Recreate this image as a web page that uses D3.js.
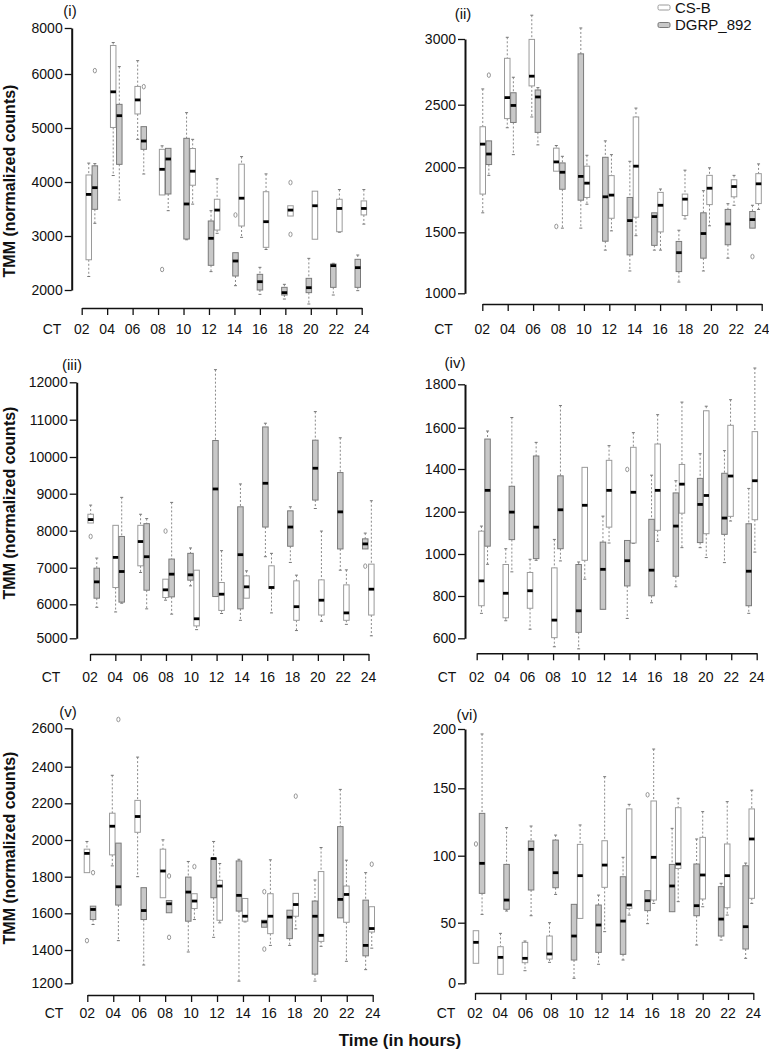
<!DOCTYPE html>
<html>
<head>
<meta charset="utf-8">
<script src="https://cdn.jsdelivr.net/npm/d3@7"></script>
<style>
  body { margin: 0; background: #fff; }
  svg { display: block; font-family: "Liberation Sans", Arial, sans-serif; }
</style>
</head>
<body>
<svg id="chart" width="769" height="1050"></svg>
<script>
// time points (CT) and their labels
const times = [2, 4, 6, 8, 10, 12, 14, 16, 18, 20, 22, 24];
const timeLabels = ["02", "04", "06", "08", "10", "12", "14", "16", "18", "20", "22", "24"];
const groups = ["CS-B", "DGRP_892"];

// each box: [whisker low, q1, median, q3, whisker high], one per time point
// panel (i)
const p1White = [[2250,2560,3770,4130,4350],[4120,5010,5670,7240,7370],[4790,5260,5520,5770,6580],[3760,3760,4235,4605,4670],
  [3590,3940,4200,4620,4790],[3050,3110,3480,3680,4060],[2975,3185,3700,4330,4470],[2750,2790,3265,3820,4150],
  [3370,3370,3480,3560,3560],[2940,2940,3560,3830,3830],[3070,3080,3510,3680,3860],[3220,3390,3510,3650,3860]];
const p1Gray = [[3235,3494,3895,4300,4340],[3667,4327,5228,5438,6321],[4148,4605,4759,5025,5025],[3469,3778,4426,4623,4623],
  [2930,2944,3593,4809,5284],[2340,2457,2957,3278,3469],[2080,2259,2537,2691,2691],[1920,2000,2154,2290,2420],
  [1833,1907,1951,2049,2105],[1741,1951,2043,2216,2586],[1907,2049,2451,2481,2494],[1988,2049,2414,2568,2648]];
const p1WhiteOut = [[8, 2380], [18, 3990], [18, 3030]];
const p1GrayOut = [[2, 6146], [6, 5765], [14, 3389]];

// panel (ii)
const p2White = [[1650,1794,2185,2324,2620],[2316,2389,2554,2853,3013],[2402,2643,2717,2997,3181],[1970,1970,2043,2153,2174],
  [1716,1768,1878,2009,2096],[1511,1608,1786,1936,2101],[1472,1616,2009,2402,2473],[1354,1503,1708,1807,1833],
  [1603,1629,1755,1794,1978],[1550,1713,1839,1938,1996],[1708,1773,1852,1904,1938],[1676,1721,1873,1951,2027]];
const p2Gray = [[1938,2022,2106,2211,2211],[2101,2358,2494,2591,2709],[2179,2279,2559,2612,2630],[1532,1831,1962,2035,2088],
  [1532,1747,1930,2887,3084],[1354,1427,1773,2080,2211],[1183,1315,1590,1768,2048],[1354,1393,1621,1650,1650],
  [1092,1178,1333,1425,1516],[1183,1288,1490,1650,1820],[1288,1398,1564,1676,1720],[1532,1532,1598,1660,1708]];
const p2WhiteOut = [[8, 1545]];
const p2GrayOut = [[2, 2725], [24, 1301]];

// panel (iii)
const p3White = [[8208,8208,8300,8445,8692],[5775,6458,7279,8145,8145],[6869,7051,7707,8145,8445],[6112,6185,6395,6686,6686],
  [5255,5365,5574,6932,6932],[5729,5820,6276,6595,7461],[6167,6167,6477,6777,6914],[5747,6430,6460,7051,7388],
  [5228,5529,5930,6641,6796],[5501,5684,6112,6668,7990],[5410,5529,5747,6531,6941],[5073,5684,6413,7096,8810]];
const p3Gray = [[5912,6167,6613,6987,7260],[6030,6060,6896,7844,8901],[5866,6385,7297,8190,8327],[5711,6203,6823,7233,8765],
  [6504,6659,6805,7388,7534],[6212,6212,9129,10442,12338],[5529,5866,7352,8646,9266],[7297,8099,9284,10806,10906],
  [7142,7580,8099,8537,8646],[8600,8828,9694,10451,11216],[6932,7507,8509,9576,10515],[7507,7507,7643,7780,7935]];
const p3WhiteOut = [[2, 7844], [8, 7990]];
const p3GrayOut = [[24, 7042]];

// panel (iv)
const p4White = [[718,754,872,1108,1132],[683,697,813,950,1025],[643,742,825,912,975],[560,603,686,934,1069],
  [880,970,1230,1408,1408],[1052,1127,1300,1442,1513],[1050,1052,1291,1505,1576],[1060,1112,1300,1521,1660],
  [1030,1193,1329,1422,1718],[983,1096,1276,1678,1699],[1156,1178,1367,1611,1729],[1009,1162,1345,1581,1875]];
const p4Gray = [[951,1037,1300,1545,1584],[915,1068,1198,1319,1647],[970,978,1127,1463,1529],[967,1025,1209,1368,1702],
  [550,628,730,950,962],[737,737,927,1056,1179],[694,848,968,1064,1064],[768,801,923,1164,1371],
  [844,894,1132,1288,1345],[1030,1054,1234,1356,1474],[959,1093,1170,1380,1489],[718,754,918,1143,1309]];
const p4WhiteOut = [];
const p4GrayOut = [[14, 1398]];

// panel (v)
const p5White = [[1822,1822,1927,1950,1992],[1859,1919,2075,2146,2353],[1800,2042,2128,2216,2450],[1685,1685,1831,1950,2001],
  [1566,1626,1667,1707,1707],[1548,1562,1749,1780,1872],[1553,1557,1584,1681,1681],[1425,1489,1584,1707,1892],
  [1515,1584,1648,1709,1709],[1420,1447,1480,1828,1959],[1332,1551,1703,1749,1890],[1410,1498,1517,1636,1636]];
const p5Gray = [[1539,1566,1621,1639,1639],[1451,1645,1745,1983,1983],[1310,1566,1615,1740,1740],[1603,1603,1652,1670,1670],
  [1388,1557,1716,1798,1883],[1469,1685,1899,1901,1992],[1213,1612,1698,1886,1895],[1524,1524,1553,1562,1562],
  [1425,1462,1579,1617,1617],[1213,1255,1584,1667,1782],[1575,1575,1676,2073,2276],[1282,1365,1425,1672,1822]];
const p5WhiteOut = [[2, 1451], [10, 1855], [18, 2239], [24, 1868]];
const p5GrayOut = [[2, 1822], [4, 2646], [8, 1804], [8, 1469], [16, 1718], [16, 1405]];

// panel (vi)
const p6White = [[16.5,16.5,33.8,43.4,43.4],[7.4,7.4,21.4,30.2,41.2],[10.4,17,20.6,33.8,34.9],[17.3,20,24.2,39,50],
  [53.2,53.2,85.1,108.4,122.8],[42.6,76.4,93,111.1,159.8],[55.7,60.7,63.2,134.7,138.1],[64.4,66.9,98.8,140.6,183.1],
  [65.7,90.5,93.8,135.6,142.6],[61.9,67.7,85.6,113.6,132.7],[55.7,61.2,85.1,108.7,140.1],[64.4,68.2,112.4,134.7,148.6]];
const p6Gray = [[56.2,71.9,94.3,131.4,195.8],[58.7,60,66.9,93.5,120.8],[55.2,74.4,104.7,110.9,122],[71.1,76.1,87.3,111.6,115.3],
  [4.1,19.2,39,63.7,63.7],[15.7,25.5,48.1,63.2,70.6],[19.2,23.9,51.2,84.3,98.8],[49.2,59,66.4,73.9,73.9],
  [58.2,58.2,77.4,93.5,120.3],[31.6,55.2,62.7,93.8,112.4],[35.7,39,52.7,76.9,79.4],[20.6,28.3,46.7,92.5,94.5]];
const p6WhiteOut = [[2, 108.7]];
const p6GrayOut = [[16, 145.2]];

// y tick values per panel
const p1Ticks = [2000, 3000, 4000, 5000, 6000, 8000];
const p2Ticks = [1000, 1500, 2000, 2500, 3000];
const p3Ticks = [5000, 6000, 7000, 8000, 9000, 10000, 11000, 12000];
const p4Ticks = [600, 800, 1000, 1200, 1400, 1600, 1800];
const p5Ticks = [1200, 1400, 1600, 1800, 2000, 2200, 2400, 2600];
const p6Ticks = [0, 50, 100, 150, 200];

// layout of each panel (pixel positions of the hand-placed axes)
const panels = [
  {name: "(i)", ticks: p1Ticks, yPix: [290, 236, 182, 128, 74, 28], white: p1White, gray: p1Gray, wOut: p1WhiteOut, gOut: p1GrayOut,
   ax: 71.7, axY: 308, tick0: 81.7, tick1: 361.7, pair0: 91.8, pair1: 360.8, lab: [70, 11], ct: 52, labY: 329, title: 181},
  {name: "(ii)", ticks: p2Ticks, yPix: [293.3, 232.3, 167.3, 104.7, 39], white: p2White, gray: p2Gray, wOut: p2WhiteOut, gOut: p2GrayOut,
   ax: 465, axY: 304, tick0: 482.3, tick1: 761.7, pair0: 485.8, pair1: 755.5, lab: [463, 14], ct: 443.5, labY: 329},
  {name: "(iii)", ticks: p3Ticks, yPix: [638.3, 604.3, 567.7, 530.7, 493.7, 457, 419.7, 382.3], white: p3White, gray: p3Gray, wOut: p3WhiteOut, gOut: p3GrayOut,
   ax: 76.7, axY: 654, tick0: 90, tick1: 368.5, pair0: 93.7, pair1: 368.3, lab: [72, 365], ct: 51, labY: 677, title: 503},
  {name: "(iv)", ticks: p4Ticks, yPix: [638.3, 596, 554, 511.7, 469, 427.7, 384.3], white: p4White, gray: p4Gray, wOut: p4WhiteOut, gOut: p4GrayOut,
   ax: 465, axY: 653.3, tick0: 476.7, tick1: 756.7, pair0: 484.5, pair1: 751.8, lab: [455, 363], ct: 447, labY: 677},
  {name: "(v)", ticks: p5Ticks, yPix: [983.3, 950, 913.3, 876.7, 840, 803.3, 766.7, 728.3], white: p5White, gray: p5Gray, wOut: p5WhiteOut, gOut: p5GrayOut,
   ax: 71.7, axY: 995, tick0: 87.3, tick1: 372.7, pair0: 90, pair1: 368.7, lab: [68, 712], ct: 54, labY: 1013, title: 848},
  {name: "(vi)", ticks: p6Ticks, yPix: [983.3, 922.7, 855.7, 788.3, 729], white: p6White, gray: p6Gray, wOut: p6WhiteOut, gOut: p6GrayOut,
   ax: 465, axY: 993, tick0: 475, tick1: 753.3, pair0: 479, pair1: 748.7, lab: [467, 715], ct: 446, labY: 1013}
];

const svg = d3.select("#chart");
const boxW = 5.5;
const fills = {white: "#ffffff", gray: "#c8c8c8"};
const strokes = {white: "#9a9a9a", gray: "#7a7a7a"};

function drawPanel(p) {
  const g = svg.append("g");
  const y = d3.scaleLinear().domain(p.ticks).range(p.yPix);
  const xPair = d3.scaleLinear().domain([2, 24]).range([p.pair0, p.pair1]);
  const xTick = d3.scaleLinear().domain([2, 24]).range([p.tick0, p.tick1]);

  // y axis
  const ya = g.append("g")
    .attr("transform", "translate(" + p.ax + ",0)")
    .call(d3.axisLeft(y).tickValues(p.ticks).tickFormat(d3.format("d")).tickSize(7).tickSizeOuter(0).tickPadding(2));
  ya.select(".domain").attr("stroke", "#111").attr("stroke-width", 2);
  ya.selectAll(".tick line").attr("stroke", "#111").attr("stroke-width", 1.3);
  ya.selectAll(".tick text").attr("font-size", 14).attr("fill", "#111")
    .attr("font-family", "'Liberation Sans', Arial, sans-serif");

  // x axis
  const xa = g.append("g")
    .attr("transform", "translate(0," + p.axY + ")")
    .call(d3.axisBottom(xTick).tickValues(times).tickSize(7).tickSizeOuter(0).tickFormat(""));
  xa.select(".domain").attr("stroke", "#111").attr("stroke-width", 1.6);
  xa.selectAll(".tick line").attr("stroke", "#111").attr("stroke-width", 1.3);

  g.selectAll("text.tl")
    .data(times).enter()
    .append("text")
    .attr("class", "tl")
    .attr("x", d => xTick(d))
    .attr("y", p.labY)
    .attr("dy", "0.35em")
    .attr("text-anchor", "middle")
    .attr("font-size", 14)
    .attr("fill", "#111")
    .text((d, i) => timeLabels[i]);

  g.append("text")
    .attr("x", p.ct).attr("y", p.labY).attr("dy", "0.35em")
    .attr("text-anchor", "middle").attr("font-size", 14).attr("fill", "#111")
    .text("CT");

  g.append("text")
    .attr("x", p.lab[0]).attr("y", p.lab[1]).attr("dy", "0.35em")
    .attr("text-anchor", "middle").attr("font-size", 15).attr("fill", "#111")
    .text(p.name);

  if (p.title) {
    g.append("text")
      .attr("transform", "translate(9," + p.title + ") rotate(-90)")
      .attr("dy", "0.35em")
      .attr("text-anchor", "middle")
      .attr("font-size", 16)
      .attr("font-weight", "bold")
      .attr("fill", "#111")
      .text("TMM (normalized counts)");
  }

  // CS-B sits left of DGRP_892 up to CT08, right of it afterwards
  function boxCenter(kind, t) {
    const whiteLeft = t <= 8;
    const left = (kind === "white") === whiteLeft;
    return xPair(t) + (left ? -(boxW / 2 + 0.3) : (boxW / 2 + 0.3));
  }

  function drawBoxes(kind, stats, outs) {
    const rows = stats.map((s, i) => ({t: times[i], s: s}));
    const bg = g.append("g");
    const b = bg.selectAll("g.box").data(rows).enter().append("g").attr("class", "box");

    // whiskers
    b.append("line")
      .attr("x1", d => boxCenter(kind, d.t)).attr("x2", d => boxCenter(kind, d.t))
      .attr("y1", d => y(d.s[4])).attr("y2", d => y(d.s[3]))
      .attr("stroke", "#8a8a8a").attr("stroke-width", 1).attr("stroke-dasharray", "2,2");
    b.append("line")
      .attr("x1", d => boxCenter(kind, d.t)).attr("x2", d => boxCenter(kind, d.t))
      .attr("y1", d => y(d.s[1])).attr("y2", d => y(d.s[0]))
      .attr("stroke", "#8a8a8a").attr("stroke-width", 1).attr("stroke-dasharray", "2,2");
    b.filter(d => d.s[4] > d.s[3]).append("line")
      .attr("x1", d => boxCenter(kind, d.t) - 1.5).attr("x2", d => boxCenter(kind, d.t) + 1.5)
      .attr("y1", d => y(d.s[4])).attr("y2", d => y(d.s[4]))
      .attr("stroke", "#777").attr("stroke-width", 1);
    b.filter(d => d.s[0] < d.s[1]).append("line")
      .attr("x1", d => boxCenter(kind, d.t) - 1.5).attr("x2", d => boxCenter(kind, d.t) + 1.5)
      .attr("y1", d => y(d.s[0])).attr("y2", d => y(d.s[0]))
      .attr("stroke", "#777").attr("stroke-width", 1);

    // box
    b.append("rect")
      .attr("x", d => boxCenter(kind, d.t) - boxW / 2)
      .attr("width", boxW)
      .attr("y", d => y(d.s[3]))
      .attr("height", d => Math.max(1, y(d.s[1]) - y(d.s[3])))
      .attr("fill", fills[kind])
      .attr("stroke", strokes[kind])
      .attr("stroke-width", 1);

    // median
    b.append("line")
      .attr("x1", d => boxCenter(kind, d.t) - boxW / 2).attr("x2", d => boxCenter(kind, d.t) + boxW / 2)
      .attr("y1", d => y(d.s[2])).attr("y2", d => y(d.s[2]))
      .attr("stroke", "#000").attr("stroke-width", 2.8);

    // outliers
    bg.selectAll("ellipse").data(outs).enter().append("ellipse")
      .attr("cx", d => boxCenter(kind, d[0]))
      .attr("cy", d => y(d[1]))
      .attr("rx", 1.6).attr("ry", 2.3)
      .attr("fill", "none").attr("stroke", "#8a8a8a").attr("stroke-width", 0.9);
  }

  drawBoxes("white", p.white, p.wOut);
  drawBoxes("gray", p.gray, p.gOut);
}

panels.forEach(drawPanel);

// legend
const legend = svg.append("g");
legend.selectAll("rect").data(groups).enter().append("rect")
  .attr("x", 658).attr("y", (d, i) => 5 + i * 17.5)
  .attr("width", 12).attr("height", 5).attr("rx", 1.5)
  .attr("fill", (d, i) => i === 0 ? fills.white : fills.gray)
  .attr("stroke", (d, i) => i === 0 ? strokes.white : strokes.gray)
  .attr("stroke-width", 1);
legend.selectAll("text").data(groups).enter().append("text")
  .attr("x", 675).attr("y", (d, i) => 7.5 + i * 17.5).attr("dy", "0.35em")
  .attr("font-size", 15).attr("fill", "#111")
  .text(d => d);

// shared x title
svg.append("text")
  .attr("x", 400).attr("y", 1040).attr("dy", "0.35em")
  .attr("text-anchor", "middle")
  .attr("font-size", 17).attr("font-weight", "bold").attr("fill", "#111")
  .text("Time (in hours)");
</script>
</body>
</html>
